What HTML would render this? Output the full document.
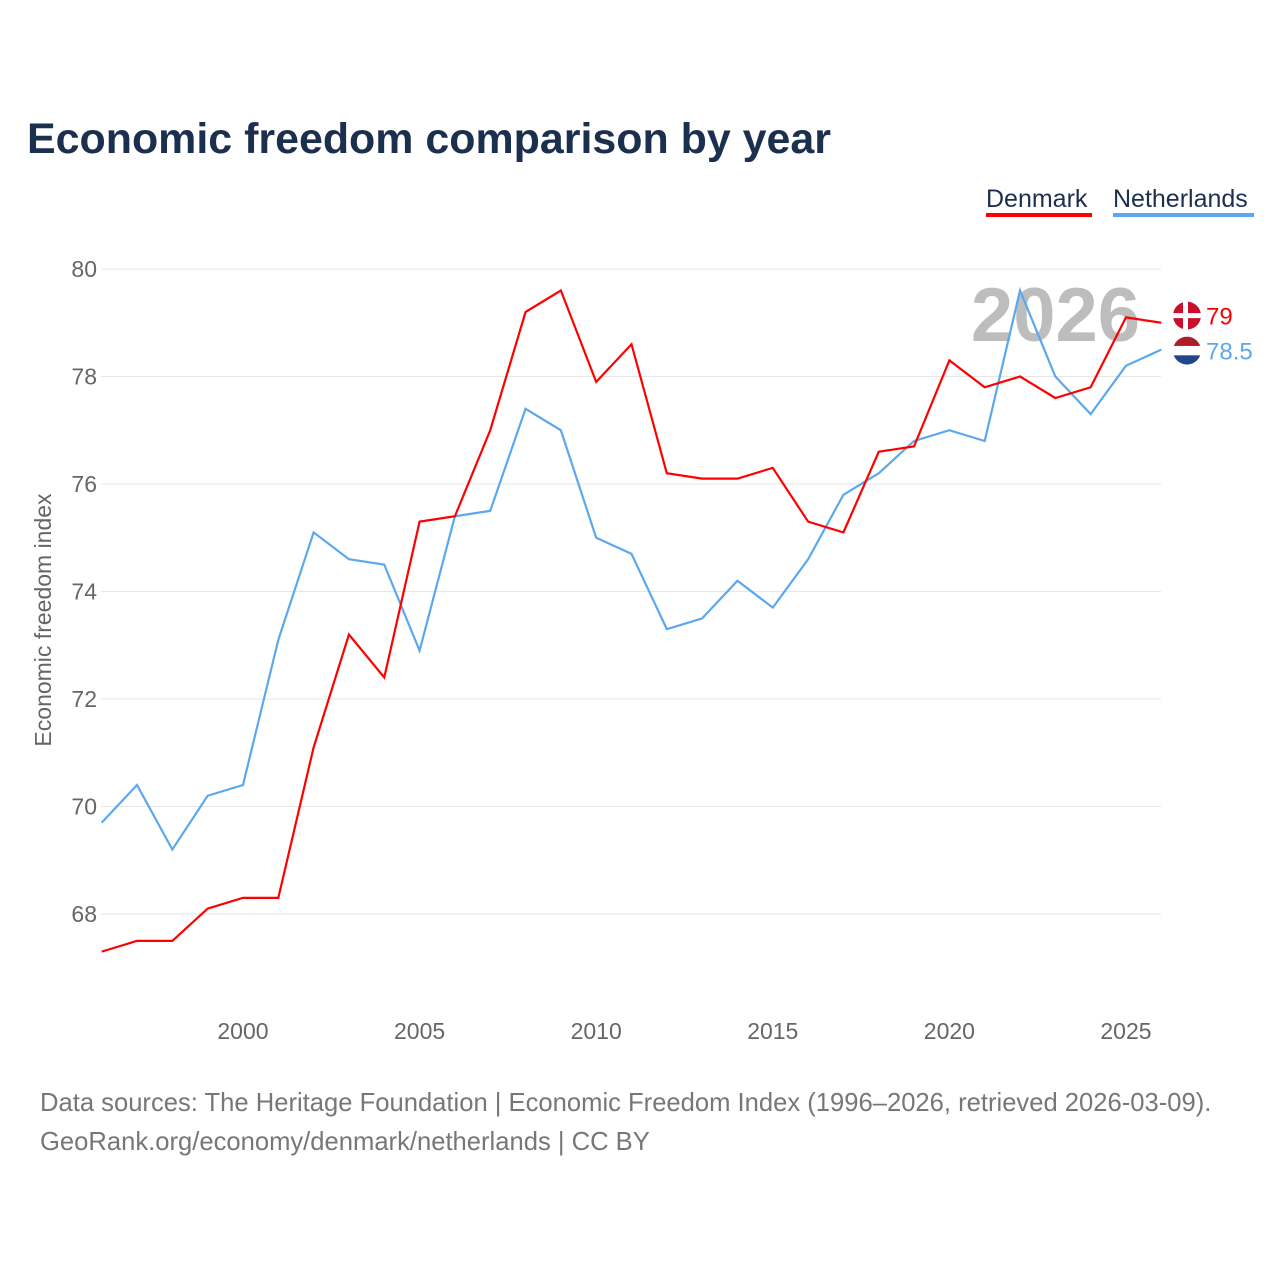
<!DOCTYPE html>
<html><head><meta charset="utf-8"><style>
body{margin:0;background:#fff;font-family:"Liberation Sans",sans-serif;}
svg text{font-family:"Liberation Sans",sans-serif;}
</style></head><body>
<svg id="chart" width="1280" height="1280" viewBox="0 0 1280 1280" xmlns="http://www.w3.org/2000/svg">
<rect width="1280" height="1280" fill="#fff"/>
<text x="27" y="153" font-size="43" font-weight="bold" fill="#1b2f4f" textLength="804" lengthAdjust="spacingAndGlyphs">Economic freedom comparison by year</text>
<g><text x="986" y="207" font-size="25" fill="#1b2f4f">Denmark</text><rect x="986" y="213" width="106" height="4" fill="#ff0000"/></g>
<g><text x="1113" y="207" font-size="25" fill="#1b2f4f">Netherlands</text><rect x="1113" y="213" width="141" height="4" fill="#5ca8ee"/></g>
<g id="grid"></g>
<g id="yticks"></g>
<g id="xticks"></g>
<text x="1140" y="341" font-size="76" font-weight="bold" fill="#bdbdbd" text-anchor="end">2026</text>
<text transform="translate(51,620) rotate(-90)" font-size="23" fill="#666" text-anchor="middle">Economic freedom index</text>
<g id="series"></g>
<g>
<text x="40" y="1111" font-size="25.6" fill="#777">Data sources: The Heritage Foundation | Economic Freedom Index (1996–2026, retrieved 2026-03-09).</text>
<text x="40" y="1150" font-size="25.6" fill="#777">GeoRank.org/economy/denmark/netherlands | CC BY</text>
</g>
</svg>
<script>
const years=[1996,1997,1998,1999,2000,2001,2002,2003,2004,2005,2006,2007,2008,2009,2010,2011,2012,2013,2014,2015,2016,2017,2018,2019,2020,2021,2022,2023,2024,2025,2026];
const denmark=[67.3,67.5,67.5,68.1,68.3,68.3,71.1,73.2,72.4,75.3,75.4,77.0,79.2,79.6,77.9,78.6,76.2,76.1,76.1,76.3,75.3,75.1,76.6,76.7,78.3,77.8,78.0,77.6,77.8,79.1,79.0];
const netherlands=[69.7,70.4,69.2,70.2,70.4,73.1,75.1,74.6,74.5,72.9,75.4,75.5,77.4,77.0,75.0,74.7,73.3,73.5,74.2,73.7,74.6,75.8,76.2,76.8,77.0,76.8,79.6,78.0,77.3,78.2,78.5];
const yTicks=[68,70,72,74,76,78,80];
const xTicks=[2000,2005,2010,2015,2020,2025];
const NS="http://www.w3.org/2000/svg";
const X=v=>101.7+(v-1996)*35.32;
const Y=v=>269+(80-v)*53.75;
function mk(t,a,p){const e=document.createElementNS(NS,t);for(const k in a)e.setAttribute(k,a[k]);p.appendChild(e);return e;}
const grid=document.getElementById('grid'),yt=document.getElementById('yticks'),xt=document.getElementById('xticks'),ser=document.getElementById('series');
yTicks.forEach(v=>{
 const l=mk('line',{x1:101,x2:1161,y1:Y(v),y2:Y(v),stroke:'#e6e6e6','stroke-width':1},grid);
 
 
 const t=mk('text',{x:97,y:Y(v)+8,'font-size':23,fill:'#666','text-anchor':'end'},yt);t.textContent=v;
 
 
});
xTicks.forEach(v=>{
 const t=mk('text',{x:X(v),y:1039,'font-size':23,fill:'#666','text-anchor':'middle'},xt);t.textContent=v;
 
 
});
function line(vals,color,name){
 const p=mk('polyline',{points:vals.map((v,i)=>X(years[i])+','+Y(v)).join(' '),fill:'none',stroke:color,'stroke-width':2.2},ser);
 
 
}
line(netherlands,'#5ca8ee','netherlands-line');
line(denmark,'#ff0000','denmark-line');
const last=years.length-1;
const dy=Y(denmark[last]),ny=Y(netherlands[last]);
const dyL=Math.min(dy,ny-35)+1,nyL=ny+1;
const d1=mk('g',{},ser);


mk('circle',{cx:1187,cy:dyL,r:14,fill:'#c8102e'},d1);
mk('rect',{x:1183,y:dyL-14,width:5,height:28,fill:'#fff'},d1);
mk('rect',{x:1173,y:dyL-2.5,width:28,height:5,fill:'#fff'},d1);
mk('text',{x:1206,y:dyL+9,'font-size':24,fill:'#ff0000'},d1).textContent=denmark[last];
const n1=mk('g',{},ser);


const cp=mk('clipPath',{id:'nlc'},n1);mk('circle',{cx:1187,cy:nyL,r:14},cp);
mk('rect',{x:1173,y:nyL-14,width:28,height:10,fill:'#ae1c28','clip-path':'url(#nlc)'},n1);
mk('rect',{x:1173,y:nyL-4.7,width:28,height:9.4,fill:'#fff','clip-path':'url(#nlc)'},n1);
mk('rect',{x:1173,y:nyL+4.7,width:28,height:10,fill:'#21468b','clip-path':'url(#nlc)'},n1);
mk('text',{x:1206,y:nyL+9,'font-size':24,fill:'#5ca8ee'},n1).textContent=netherlands[last];
</script>
</body></html>
